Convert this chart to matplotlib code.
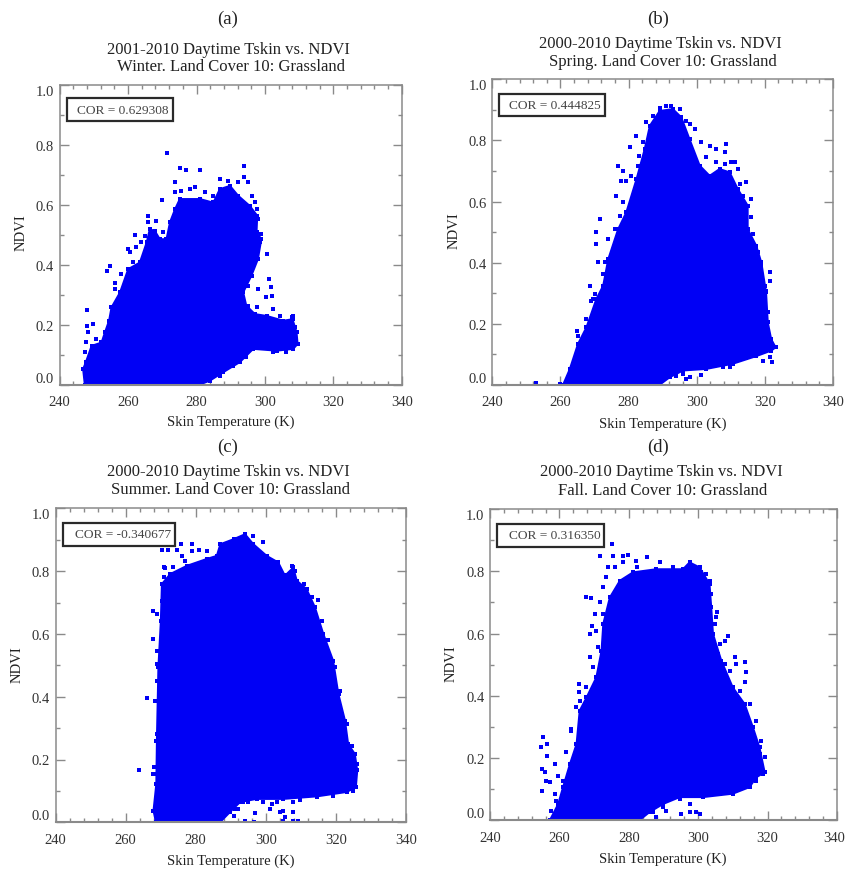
import matplotlib
matplotlib.use("Agg")
import matplotlib.pyplot as plt
from matplotlib.patches import Rectangle
from matplotlib.ticker import MultipleLocator
from matplotlib.transforms import ScaledTranslation

W, H = 846, 870
plt.rcParams["font.family"] = ["Liberation Serif", "DejaVu Serif"]

# ---------------------------
# Data
# ---------------------------
labels = ["(a)", "(b)", "(c)", "(d)"]
titles = ["2001-2010 Daytime Tskin vs. NDVI", "2000-2010 Daytime Tskin vs. NDVI",
          "2000-2010 Daytime Tskin vs. NDVI", "2000-2010 Daytime Tskin vs. NDVI"]
subtitles = ["Winter. Land Cover 10: Grassland", "Spring. Land Cover 10: Grassland",
             "Summer. Land Cover 10: Grassland", "Fall. Land Cover 10: Grassland"]
cor_text = ["COR = 0.629308", "COR = 0.444825", "COR = -0.340677", "COR = 0.316350"]

# outline of the solid cloud of points in each panel
a_t = [247.3, 246.8, 247.6, 249.3, 252.2, 253.2, 254.4, 255.1, 257.6, 260, 263.4, 265.4, 266.3, 267.8, 269.3, 271.2,
       272.2, 273.7, 275.1, 281, 284.9, 286.8, 289.8, 292.2, 295.6, 297.8, 297.6, 299, 298, 296.1, 293.7, 294.6,
       297.1, 300.5, 305.4, 308.1, 309.3, 309.6, 308.3, 303.4, 296.6, 292.7, 287.8, 283.9, 281]
a_n = [0, .052, .075, .13, .141, .175, .214, .258, .308, .386, .408, .475, .519, .514, .486, .486,
       .542, .586, .62, .62, .608, .653, .664, .631, .597, .564, .508, .486, .419, .364, .308, .264,
       .236, .23, .214, .219, .175, .136, .119, .113, .119, .075, .041, .013, 0]
b_t = [260.7, 262.7, 265.1, 267.6, 270.5, 272.5, 274, 276.9, 279.3, 282.3, 284.7, 286.2, 289.1, 293, 295.5, 297.9,
       300.9, 303.8, 306.7, 309.7, 312.1, 315, 315, 317.5, 319, 320.4, 320.9, 321.9, 323.2, 321.9, 317.5, 310.6,
       302.8, 296, 292.1, 289.1]
b_n = [0, .052, .134, .189, .281, .325, .412, .51, .565, .674, .772, .848, .897, .903, .876, .805,
       .718, .685, .707, .696, .641, .587, .51, .456, .401, .303, .205, .15, .123, .112, .094, .069,
       .052, .047, .025, 0]
c_t = [268.6, 267.9, 268.7, 268.9, 269.3, 270, 270.3, 272.7, 277.4, 283.1, 286, 287, 290.8, 294.1, 296.5, 300.3,
       303.6, 305.5, 307.9, 308.9, 311.7, 314.1, 316.5, 319.3, 320.8, 322.7, 323.6, 325.5, 326.2, 325.8, 323.1,
       314.6, 305, 297.4, 292.7, 289.8, 287]
c_n = [0, .037, .122, .281, .494, .642, .759, .791, .817, .839, .849, .886, .902, .918, .886, .849,
       .828, .786, .812, .77, .743, .685, .6, .515, .409, .324, .249, .218, .165, .111, .096,
       .082, .074, .074, .064, .032, 0]
d_t = [257.2, 259.6, 261, 263, 264.9, 265.8, 267.8, 270.6, 272.1, 272.6, 274.5, 277.4, 281.2, 287.9, 295.6, 297.5,
       300.4, 303.3, 303.8, 304.3, 306.7, 310, 313.4, 315.8, 317.7, 319.2, 316.8, 314.8, 310, 301.4, 294.7, 289.9,
       286, 283.1]
d_n = [0, .052, .106, .181, .245, .352, .395, .459, .545, .631, .716, .77, .797, .807, .807, .829,
       .813, .759, .684, .599, .513, .427, .374, .299, .234, .154, .138, .106, .085, .074, .074, .052,
       .026, 0]

# separate points outside the solid cloud
a_pt = [271.3, 275.2, 276.8, 281.1, 294, 294, 273.6, 295.1, 287, 289.3, 292.2, 269.8, 265.9, 268.3, 262.1, 260, 254.6,
        253.9, 257.8, 248, 248, 249.6, 300.5, 298.8, 301.3, 301.8, 302, 300.3, 302.4, 298, 295.1, 296.1, 307.8, 304.4,
        286.8]
a_pn = [.772, .722, .716, .716, .731, .694, .677, .677, .686, .681, .675, .616, .564, .547, .5, .453, .397,
        .38, .369, .249, .197, .202, .436, .503, .353, .325, .297, .291, .252, .319, .33, .386, .225, .23,
        .03]
b_pt = [252.7, 259.8, 308.7, 308.2, 303.8, 305.8, 311.1, 312.1, 314.6, 316, 316, 321.4, 321.4, 320.4, 276.9, 278.4,
        276.4, 271.5, 270.5, 270.5, 271, 268.6, 269.5, 264.9, 265.1, 280.3, 282.3, 285.2, 296.9, 299.4, 295, 321.4,
        322.2, 319.5, 301.4, 297.9, 296, 309.7]
b_pn = [.007, .003, .788, .761, .783, .772, .731, .707, .663, .608, .549, .369, .341, .309, .718, .701,
        .619, .543, .499, .461, .401, .323, .281, .178, .161, .777, .816, .859, .865, .838, .903, .091,
        .076, .08, .033, .025, .036, .058]
c_pt = [263.9, 266.1, 267.9, 267.9, 267.9, 269, 268.9, 268.9, 270.3, 272.2, 274.6, 275.7, 278.9, 278.9, 281, 283.1,
        276, 271.2, 296.5, 299.1, 315, 307.4, 308.4, 297, 294.1, 290.8, 292.2, 296.6, 301.7, 304.1, 305.5, 307.9,
        307.9, 309.1, 305, 299.3, 307.9, 295]
c_pn = [.167, .397, .154, .584, .674, .663, .547, .504, .868, .868, .868, .886, .886, .865, .867, .863,
        .849, .81, .913, .894, .709, .817, .801, .03, .003, .021, .042, 0, .058, .032, .016, .032,
        .005, .005, .037, .064, .064, .064]
d_pt = [271.9, 275.3, 271.6, 275.4, 278.3, 279.8, 285.2, 282.2, 267.6, 269.2, 270.2, 271.6, 268.7, 269.4, 268.7, 265.6,
        265.6, 264.7, 263.2, 255.3, 256.4, 254.8, 255, 256.4, 258.6, 262, 255.1, 256.2, 258.6, 308.6, 307.6, 305.7,
        305.4, 305, 310.5, 313.4, 313.9, 313.4, 311, 302.2, 318.2, 318.7, 317.7, 314.8, 299.5, 297.5, 295.1, 297.5,
        290.8, 294.7, 287.9, 300.4, 287]
d_pn = [.888, .888, .85, .85, .85, .853, .847, .834, .716, .714, .663, .7, .599, .625, .524, .438,
        .411, .363, .288, .267, .245, .234, .165, .208, .181, .218, .095, .127, .085, .593, .577, .534,
        .668, .652, .526, .507, .475, .443, .502, .791, .181, .149, .213, .299, .026, .052, .02, .026,
        .031, .069, .01, .02, .026]

# points sitting on the rough edge of the cloud
a_et = [256.1, 256.1, 260.7, 262.4, 263.9, 261.5, 264.9, 265.9, 270.2, 270.8, 269.1, 271.2, 273.7, 275.6, 278, 279.5,
        282.4, 284.9, 296.1, 297.1, 297.6, 298, 298.5, 297.1, 294.1, 293.2, 295.1, 297.6, 247.8, 248.3, 247.3, 250.7,
        251.7, 284.9, 290.7, 294.6, 302.4, 306.3, 308.3, 308.8]
a_en = [.341, .319, .442, .458, .475, .408, .497, .542, .508, .464, .458, .458, .642, .647, .653, .658,
        .644, .631, .631, .608, .586, .553, .475, .408, .33, .297, .264, .258, .141, .175, .108, .152,
        .08, .03, .063, .091, .108, .108, .23, .191]
b_et = [267.6, 269.1, 270, 273, 272.5, 274.9, 274, 275.9, 277.4, 278.4, 277.9, 279.3, 280.8, 282.8, 283.2, 284.2,
        287.2, 289.1, 291.1, 292.5, 297.9, 301.4, 302.8, 305.8, 308.2, 310.2, 312.6, 313.6, 314.1, 316.5, 318, 319,
        319.9, 320.9, 322.4, 314.6, 307.7, 294, 297]
b_en = [.216, .276, .298, .401, .363, .423, .478, .51, .554, .598, .668, .668, .685, .718, .75, .794,
        .881, .905, .912, .914, .854, .794, .745, .728, .723, .728, .658, .619, .565, .494, .434, .39,
        .325, .238, .129, .087, .058, .03, .02]
c_et = [270.4, 271, 268.9, 268.4, 268.6, 268.1, 268.7, 268.9, 270.8, 270.8, 273.6, 277, 304.1, 306, 310.8, 313.1,
        316, 317.9, 319.8, 321.2, 323.1, 324.6, 326, 325, 319.3, 309.8, 303.1, 293.6, 291.2, 301.2, 305]
c_en = [.706, .738, .451, .387, .26, .175, .069, .154, .78, .812, .812, .833, .801, .775, .759, .717,
        .642, .579, .494, .419, .313, .244, .186, .101, .085, .071, .064, .064, .042, .042, .005]
d_et = [263.4, 265.8, 267.8, 269.7, 271.1, 270.6, 272.6, 272.6, 273.5, 274, 275.9, 278.3, 282.5, 288.9, 292.7, 300.9,
        303.3, 303.8, 304.7, 306.2, 307.6, 309.1, 312, 314.8, 316.8, 318, 319.2, 316.8, 312.9, 306.2, 289.9, 257.2,
        259.6, 261, 259.1, 257.7, 255.8]
d_en = [.293, .384, .427, .491, .556, .609, .663, .748, .781, .813, .813, .829, .813, .829, .813, .797,
        .77, .727, .631, .566, .502, .481, .416, .374, .32, .256, .202, .127, .106, .085, .042, .122,
        .143, .127, .063, .031, .154]

cloud_t = [a_t, b_t, c_t, d_t]
cloud_n = [a_n, b_n, c_n, d_n]
points_t = [a_pt + a_et + a_t, b_pt + b_et + b_t, c_pt + c_et + c_t, d_pt + d_et + d_t]
points_n = [a_pn + a_en + a_n, b_pn + b_en + b_n, c_pn + c_en + c_n, d_pn + d_en + d_n]

x_ticks = [240, 260, 280, 300, 320, 340]
y_ticks = [0.0, 0.2, 0.4, 0.6, 0.8, 1.0]

# ---------------------------
# Layout, in pixels of the picture
# ---------------------------
axes_box = [(59.7, 86, 401.7, 385.7), (492.3, 80.3, 833, 386),
            (55.7, 509.3, 405.7, 823.3), (490, 510, 837, 821.3)]
cor_box = [(66.7, 99.3, 172.7, 122), (499.3, 94.7, 604.7, 117.3),
           (63.3, 524.3, 175, 546.7), (497, 525, 604.3, 547.7)]
label_xy = [(228, 19), (658, 19), (228, 447), (658, 447)]
title_xy = [(228.7, 50), (660.7, 44), (228.3, 471.7), (661, 472.3)]
sub_xy = [(231, 67), (663, 62), (230.7, 490), (663, 490.7)]
xlabel_xy = [(230.7, 422.7), (663, 424), (230.7, 861.7), (663, 859.3)]
ylabel_xy = [(21, 233), (454, 230.7), (16.7, 664.3), (451.3, 663.3)]

BLUE = "#0000f5"
GREY = "#8a8a8a"
TEXT = "#222222"


def put_text(fig, xy, s, size, **kw):
    fig.text(xy[0] / W, 1 - xy[1] / H, s, fontsize=size, color=TEXT, ha="center", va="center", **kw)


fig = plt.figure(figsize=(W / 100, H / 100), dpi=100)

for i in range(4):
    l, t, r, b = axes_box[i]
    ax = fig.add_axes([l / W, 1 - b / H, (r - l) / W, (b - t) / H])
    ax.fill(cloud_t[i], cloud_n[i], color=BLUE, lw=1.2, zorder=2)
    ax.scatter(points_t[i], points_n[i], s=6, marker="s", color=BLUE, linewidths=0, zorder=2)
    ax.set_xlim(240, 340)
    ax.set_ylim(0, 1)

    ax.set_xticks(x_ticks)
    ax.set_yticks(y_ticks)
    ax.set_yticklabels([f"{v:.1f}" for v in y_ticks])
    ax.xaxis.set_minor_locator(MultipleLocator(4))
    ax.yaxis.set_minor_locator(MultipleLocator(0.1))
    ax.tick_params(which="major", direction="in", length=6.5, width=1, color=GREY, top=True, right=True,
                   labelsize=10.5, labelcolor="#333333")
    ax.tick_params(which="minor", direction="in", length=3, width=1, color=GREY, top=True, right=True)
    ax.tick_params(axis="x", which="major", pad=7.5)
    ax.tick_params(axis="y", which="major", pad=4)
    ax.get_yticklabels()[0].set_va("bottom")
    ax.get_yticklabels()[-1].set_va("top")
    for s in ax.spines.values():
        s.set_color(GREY)
        s.set_linewidth(1.1)
    ax.spines["bottom"].set_linewidth(1.5)

    # last label of the right hand panels runs up to the picture edge
    if i == 3:
        lab = ax.get_xticklabels()[-1]
        lab.set_transform(lab.get_transform() + ScaledTranslation(-3 / 100, 0, fig.dpi_scale_trans))

    put_text(fig, label_xy[i], labels[i], 13.5)
    put_text(fig, title_xy[i], titles[i], 12)
    put_text(fig, sub_xy[i], subtitles[i], 12)
    put_text(fig, xlabel_xy[i], "Skin Temperature (K)", 10.5)
    put_text(fig, ylabel_xy[i], "NDVI", 10.5, rotation=90)

    x0, y0, x1, y1 = cor_box[i]
    fig.add_artist(Rectangle((x0 / W, 1 - y1 / H), (x1 - x0) / W, (y1 - y0) / H, transform=fig.transFigure,
                             facecolor="white", edgecolor="#2a2a2a", linewidth=1.6, zorder=5))
    fig.text((x1 - 4) / W, 1 - (y0 + y1) / 2 / H, cor_text[i], fontsize=9.6, color="#444444",
             ha="right", va="center", zorder=6)

fig.savefig("out.png", dpi=100)
